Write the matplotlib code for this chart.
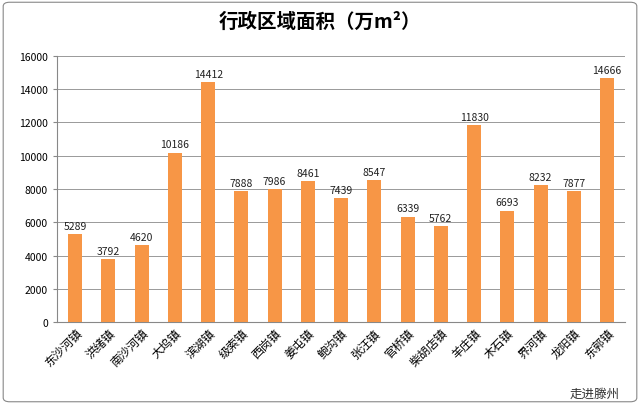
import matplotlib.pyplot as plt
from matplotlib import font_manager
from matplotlib.patches import FancyBboxPatch

cjk = [f.name for f in font_manager.fontManager.ttflist if "CJK" in f.name]
cjk_name = "Noto Sans CJK SC" if "Noto Sans CJK SC" in cjk else (cjk[0] if cjk else "DejaVu Sans")
plt.rcParams["font.family"] = [cjk_name, "DejaVu Sans"]

towns = ["东沙河镇", "洪绪镇", "南沙河镇", "大坞镇", "滨湖镇", "级索镇", "西岗镇", "姜屯镇", "鲍沟镇",
         "张汪镇", "官桥镇", "柴胡店镇", "羊庄镇", "木石镇", "界河镇", "龙阳镇", "东郭镇"]
areas = [5289, 3792, 4620, 10186, 14412, 7888, 7986, 8461, 7439,
         8547, 6339, 5762, 11830, 6693, 8232, 7877, 14666]
y_ticks = list(range(0, 16001, 2000))

fig = plt.figure(figsize=(6.4, 4.06), dpi=100)
fig.patches.append(FancyBboxPatch((0.005, 0.008), 0.99, 0.984, boxstyle="round,pad=0,rounding_size=0.01",
                                  transform=fig.transFigure, fill=False, edgecolor="#888888", lw=0.8))
ax = fig.add_axes([0.089, 0.204, 0.888, 0.656])

x = range(len(towns))
ax.bar(x, areas, width=0.42, color="#F79646", zorder=3)
for i, v in zip(x, areas):
    ax.text(i, v + 200, str(v), ha="center", va="bottom", fontsize=7.5, color="#222222")

ax.set_ylim(0, 16000)
ax.set_xlim(-0.55, len(towns) - 0.45)
ax.set_yticks(y_ticks)
ax.tick_params(axis="y", labelsize=7.5, length=3, color="#888888")
ax.set_xticks(list(x))
ax.set_xticklabels(towns, rotation=45, ha="right", rotation_mode="anchor", fontsize=8.5)
ax.tick_params(axis="x", length=0, pad=3)
ax.grid(axis="y", color="#999999", lw=0.7, zorder=0)
for s in ["top", "right"]:
    ax.spines[s].set_visible(False)
ax.spines["left"].set_color("#888888")
ax.spines["bottom"].set_color("#888888")

fig.text(0.5, 0.945, "行政区域面积（万m²）", ha="center", va="center", fontsize=14, fontweight="bold")
fig.text(0.89, 0.03, "走进滕州", ha="left", va="center", fontsize=9, color="#333333")

fig.savefig("out.png", dpi=100)
